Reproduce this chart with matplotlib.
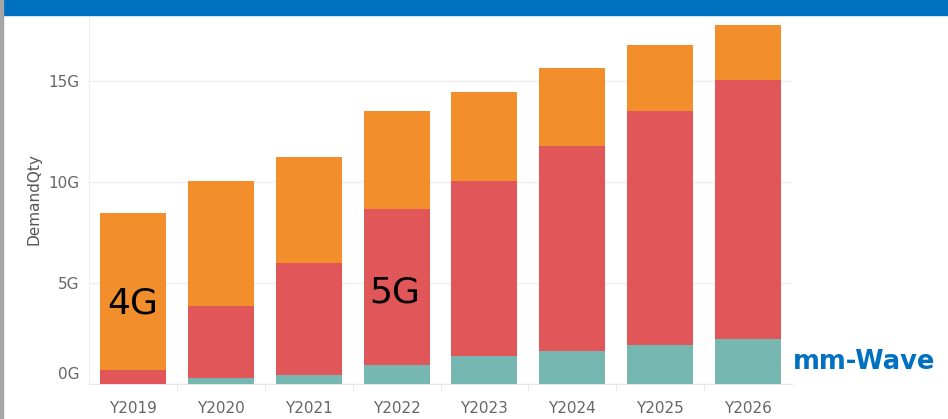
import numpy as np
import matplotlib.pyplot as plt
from matplotlib.patches import Rectangle
from matplotlib.transforms import offset_copy

years = ["Y2019", "Y2020", "Y2021", "Y2022", "Y2023", "Y2024", "Y2025", "Y2026"]
# values in G (stacked: mm-Wave, 5G, 4G)
mmwave = [0.0, 0.30, 0.45, 0.94, 1.39, 1.63, 1.93, 2.23]
g5_top = [0.69, 3.86, 5.99, 8.66, 10.05, 11.78, 13.51, 15.05]
total = [8.47, 10.05, 11.24, 13.50, 14.46, 15.64, 16.78, 17.77]

mmwave = np.array(mmwave)
g5 = np.array(g5_top) - mmwave
g4 = np.array(total) - np.array(g5_top)

W, H = 948, 419
fig = plt.figure(figsize=(W / 100, H / 100), dpi=100)

# banner + left border
fig.patches.append(Rectangle((0, (H - 15) / H), 1, 15 / H, transform=fig.transFigure,
                             color="#0070C0", zorder=0))
fig.patches.append(Rectangle((0, 0), 3 / W, 1, transform=fig.transFigure,
                             color="#A6A6A6", zorder=0))

ax = fig.add_axes([89 / W, (H - 384) / H, (792 - 89) / W, (384 - 15) / H])
x = np.arange(len(years))
bw = 0.75
ax.bar(x, mmwave, bw, color="#76B7B2", zorder=3)
ax.bar(x, g5, bw, bottom=mmwave, color="#E15759", zorder=3)
ax.bar(x, g4, bw, bottom=mmwave + g5, color="#F28E2B", zorder=3)

ax.set_xlim(-0.5, len(years) - 0.5)
ax.set_ylim(0, (384 - 15) / 20.2)
ax.set_yticks([0, 5, 10, 15])
ax.set_yticklabels(["0G", "5G", "10G", "15G"])
ax.set_xticks(x)
ax.set_xticklabels(years)
ax.set_xticks(np.arange(0.5, len(years) - 0.5, 1), minor=True)

ax.tick_params(axis="both", which="major", length=0, labelsize=11, labelcolor="#666666")
ax.tick_params(axis="x", which="major", pad=12)
ax.tick_params(axis="y", which="major", pad=7)
ax.tick_params(axis="x", which="minor", length=5, color="#E6E6E6", direction="out")

# shift the 0G label up a little like the original
lbl0 = ax.get_yticklabels()[0]
lbl0.set_transform(offset_copy(lbl0.get_transform(), fig=fig, x=0, y=11, units="dots"))

ax.grid(axis="y", color="#EEEEEE", linewidth=1, zorder=0)
for s in ["top", "right"]:
    ax.spines[s].set_visible(False)
ax.spines["left"].set_color("#EEEEEE")
ax.spines["bottom"].set_color("#E6E6E6")

ax.set_ylabel("DemandQty", fontsize=11, color="#555555", labelpad=5)

ax.text(0.0, 4.0, "4G", fontsize=26, ha="center", va="center", color="black", zorder=5)
ax.text(2.98, 4.55, "5G", fontsize=26, ha="center", va="center", color="black", zorder=5)
fig.text(864 / W, (H - 362) / H, "mm-Wave", fontsize=18.5, fontweight="bold",
         color="#0070C0", ha="center", va="center")

fig.savefig("out.png", dpi=100)
